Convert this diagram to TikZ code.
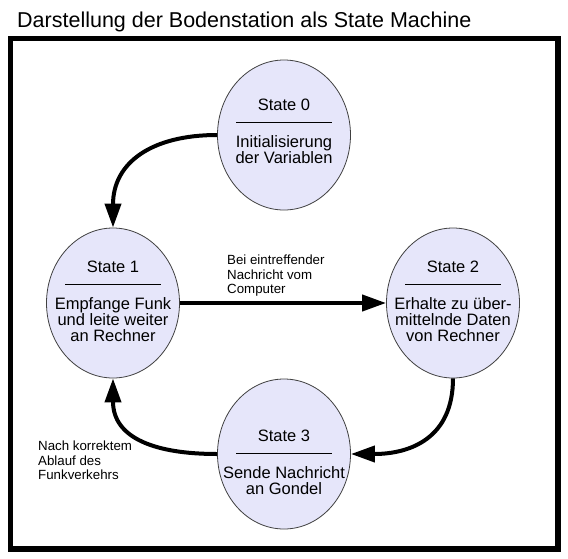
\documentclass[tikz,border=0pt]{standalone}
\usepackage{fontspec}
\setmainfont{Liberation Sans}
\usetikzlibrary{shapes.geometric,arrows.meta}
\definecolor{statefill}{RGB}{230,230,250}
\tikzset{
  state/.style={ellipse,draw=black!75,line width=0.8pt,fill=statefill,
    minimum width=133pt,minimum height=150pt,inner sep=0pt},
  statetext/.style={anchor=north,align=center,inner sep=0pt,
    font=\fontsize{16.5}{16}\selectfont},
  note/.style={anchor=north west,align=left,inner sep=0pt,
    font=\fontsize{13.3}{14.3}\selectfont},
  flow/.style={line width=4pt,-{Triangle[length=24pt,width=16pt]}},
}
\newcommand{\staterule}{\\[-4pt]\rule{96pt}{0.7pt}\\[9pt]}

\begin{document}
\begin{tikzpicture}[x=1pt,y=-1pt]
        \useasboundingbox (0,0) rectangle (568,558);
        \node[anchor=base west,inner sep=0pt,font=\fontsize{21.5}{24}\selectfont] (title) at (17,27)
          {Darstellung der Bodenstation als State Machine};
        \draw[line width=5.5pt] (10.5,38.5) rectangle (558,549);
        % states
        \node[state] (s0) at (284,135) {};
        \node[state] (s1) at (113,303) {};
        \node[state] (s2) at (453,303) {};
        \node[state] (s3) at (284,454) {};
        \node[statetext] (s0t) at (284,99) {State 0\staterule Initialisierung\\der Variablen};
        \node[statetext] (s1t) at (113,261) {State 1\staterule Empfange Funk\\und leite weiter\\an Rechner};
        \node[statetext] (s2t) at (453,261) {State 2\staterule Erhalte zu \"uber-\\mittelnde Daten\\von Rechner};
        \node[statetext] (s3t) at (284,430) {State 3\staterule Sende Nachricht\\an Gondel};
        % transitions
        \draw[flow](s0.west) to[out=180,in=90,looseness=1.2] (s1.north);
        \draw[flow](s1.east)--(s2.west);
        \draw[flow](s2.south) to[out=-90,in=0,looseness=1.2] (s3.east);
        \draw[flow](s3.west) to[out=180,in=-90,looseness=1.2] (s1.south);
        \node[note] (n12) at (227,255) {Bei eintreffender\\Nachricht vom\\Computer};
        \node[note] (n31) at (38,441) {Nach korrektem\\Ablauf des\\Funkverkehrs};
    \end{tikzpicture}
\end{document}
